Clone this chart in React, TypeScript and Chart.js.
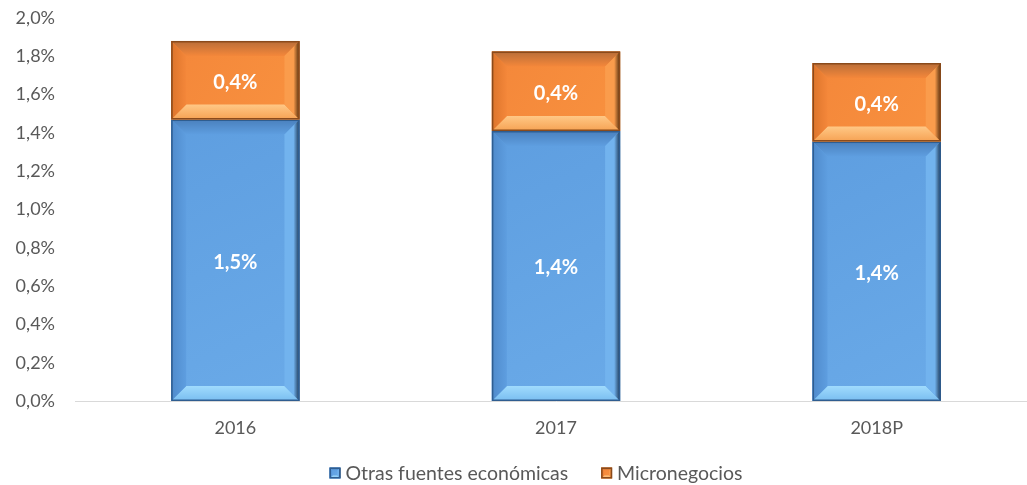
import React, { useEffect, useRef } from 'react';
import { Chart, registerables } from 'chart.js';

Chart.register(...registerables);

// Share of households by income source (stacked), in percent
const categories = ['2016', '2017', '2018P'];
const otrasFuentes = [1.47, 1.41, 1.355];
const micronegocios = [0.41, 0.415, 0.41];
const seriesNames = ['Otras fuentes económicas', 'Micronegocios'];

const FONT = 'Lato, "Open Sans", sans-serif';
const TEXT_COLOR = '#595959';

type Palette = {
  face: string;
  faceLight: string;
  top: string;
  left: string;
  right: string;
  rightEdge: string;
  bottomIn: string;
  bottomOut: string;
  border: string;
};

const palettes: Palette[] = [
  {
    face: '#5e9ee0',
    faceLight: '#6aaae8',
    top: '#4a80bd',
    left: '#4f8acb',
    right: '#72b3ee',
    rightEdge: '#1c3552',
    bottomIn: '#a0dbfd',
    bottomOut: '#79bdf0',
    border: '#2f5d90',
  },
  {
    face: '#f4873a',
    faceLight: '#f8913f',
    top: '#b86d38',
    left: '#dc742b',
    right: '#fa9c4c',
    rightEdge: '#4f2c0d',
    bottomIn: '#ffc886',
    bottomOut: '#f6a253',
    border: '#8a4a1b',
  },
];

const fmtPct = (v: number) => v.toFixed(1).replace('.', ',') + '%';

function drawBevelBox(
  ctx: CanvasRenderingContext2D,
  L: number,
  T: number,
  R: number,
  B: number,
  b: number,
  pal: Palette
) {
  const bb = Math.min(b, (B - T) / 2, (R - L) / 2);
  ctx.save();
  // face
  const fg = ctx.createLinearGradient(L, T, R, B);
  fg.addColorStop(0, pal.face);
  fg.addColorStop(1, pal.faceLight);
  ctx.fillStyle = fg;
  ctx.fillRect(L, T, R - L, B - T);

  // top bevel
  let g = ctx.createLinearGradient(0, T, 0, T + bb);
  g.addColorStop(0, pal.top);
  g.addColorStop(1, pal.face);
  ctx.fillStyle = g;
  ctx.beginPath();
  ctx.moveTo(L, T);
  ctx.lineTo(R, T);
  ctx.lineTo(R - bb, T + bb);
  ctx.lineTo(L + bb, T + bb);
  ctx.closePath();
  ctx.fill();

  // bottom bevel
  g = ctx.createLinearGradient(0, B - bb, 0, B);
  g.addColorStop(0, pal.bottomIn);
  g.addColorStop(1, pal.bottomOut);
  ctx.fillStyle = g;
  ctx.beginPath();
  ctx.moveTo(L, B);
  ctx.lineTo(R, B);
  ctx.lineTo(R - bb, B - bb);
  ctx.lineTo(L + bb, B - bb);
  ctx.closePath();
  ctx.fill();

  // left bevel
  g = ctx.createLinearGradient(L, 0, L + bb, 0);
  g.addColorStop(0, pal.left);
  g.addColorStop(1, pal.face);
  ctx.fillStyle = g;
  ctx.beginPath();
  ctx.moveTo(L, T);
  ctx.lineTo(L + bb, T + bb);
  ctx.lineTo(L + bb, B - bb);
  ctx.lineTo(L, B);
  ctx.closePath();
  ctx.fill();

  // right bevel
  g = ctx.createLinearGradient(R - bb, 0, R, 0);
  g.addColorStop(0, pal.right);
  g.addColorStop(0.6, pal.right);
  g.addColorStop(1, pal.rightEdge);
  ctx.fillStyle = g;
  ctx.beginPath();
  ctx.moveTo(R, T);
  ctx.lineTo(R - bb, T + bb);
  ctx.lineTo(R - bb, B - bb);
  ctx.lineTo(R, B);
  ctx.closePath();
  ctx.fill();

  // outline
  ctx.strokeStyle = pal.border;
  ctx.lineWidth = 1.5;
  ctx.strokeRect(L + 0.75, T + 0.75, R - L - 1.5, B - T - 1.5);
  ctx.restore();
}

const bevelPlugin = {
  id: 'bevelBars',
  afterDatasetsDraw(chart: any) {
    const ctx: CanvasRenderingContext2D = chart.ctx;
    chart.data.datasets.forEach((ds: any, di: number) => {
      const meta = chart.getDatasetMeta(di);
      meta.data.forEach((bar: any, i: number) => {
        const { x, y, base, width } = bar.getProps(['x', 'y', 'base', 'width'], true);
        const L = x - width / 2;
        const R = x + width / 2;
        const T = Math.min(y, base);
        const B = Math.max(y, base);
        drawBevelBox(ctx, L, T, R, B, 15, palettes[di]);
        ctx.save();
        ctx.fillStyle = '#ffffff';
        ctx.font = `bold 20px ${FONT}`;
        ctx.textAlign = 'center';
        ctx.textBaseline = 'middle';
        ctx.fillText(fmtPct(ds.data[i]), x, (T + B) / 2 + 2);
        ctx.restore();
      });
    });
  },
  afterDraw(chart: any) {
    // legend row under the axis
    const ctx: CanvasRenderingContext2D = chart.ctx;
    const box = 11;
    const gap = 5;
    const spacing = 33;
    const cy = 473;
    ctx.save();
    ctx.font = `19.5px ${FONT}`;
    const widths = seriesNames.map((n) => ctx.measureText(n).width);
    const total = widths.reduce((a, w) => a + box + gap + w, 0) + spacing * (seriesNames.length - 1);
    let x = 536 - total / 2;
    seriesNames.forEach((name, i) => {
      drawBevelBox(ctx, x, cy - box / 2, x + box, cy + box / 2, 3, palettes[i]);
      ctx.fillStyle = TEXT_COLOR;
      ctx.textAlign = 'left';
      ctx.textBaseline = 'middle';
      ctx.fillText(name, x + box + gap, cy + 1);
      x += box + gap + widths[i] + spacing;
    });
    ctx.restore();
  },
};

export default function App() {
  const canvasRef = useRef<HTMLCanvasElement | null>(null);

  useEffect(() => {
    document.body.style.margin = '0';
    const canvas = canvasRef.current;
    if (!canvas) return;
    const chart = new Chart(canvas, {
      type: 'bar',
      data: {
        labels: categories,
        datasets: [
          {
            label: seriesNames[0],
            data: otrasFuentes,
            backgroundColor: palettes[0].face,
            borderWidth: 0,
            barPercentage: 0.4,
            categoryPercentage: 1,
          },
          {
            label: seriesNames[1],
            data: micronegocios,
            backgroundColor: palettes[1].face,
            borderWidth: 0,
            barPercentage: 0.4,
            categoryPercentage: 1,
          },
        ],
      },
      options: {
        responsive: false,
        animation: false,
        layout: { padding: { top: 18, right: 3, left: 0, bottom: 0 } },
        plugins: {
          legend: { display: false },
          tooltip: { enabled: false },
        },
        scales: {
          x: {
            stacked: true,
            grid: { display: false, drawTicks: false },
            border: { display: true, color: '#d9d9d9', width: 1 },
            ticks: { color: TEXT_COLOR, font: { family: FONT, size: 18 }, padding: 16 },
            afterFit: (scale: any) => {
              scale.height = 84;
            },
          },
          y: {
            stacked: true,
            min: 0,
            max: 2,
            grid: { display: false, drawTicks: false },
            border: { display: false },
            ticks: {
              stepSize: 0.2,
              color: TEXT_COLOR,
              font: { family: FONT, size: 18 },
              padding: 20,
              callback: (v: any) => fmtPct(Number(v)),
            },
            afterFit: (scale: any) => {
              scale.width = 75;
              scale.paddingTop = 0;
              scale.paddingBottom = 0;
            },
          },
        },
      },
      plugins: [bevelPlugin],
    });
    return () => chart.destroy();
  }, []);

  return (
    <div style={{ position: 'absolute', left: 0, top: 0, width: 1027, height: 485, overflow: 'hidden', background: '#ffffff' }}>
      <canvas ref={canvasRef} width={1040} height={485} style={{ width: 1040, height: 485 }} />
    </div>
  );
}
